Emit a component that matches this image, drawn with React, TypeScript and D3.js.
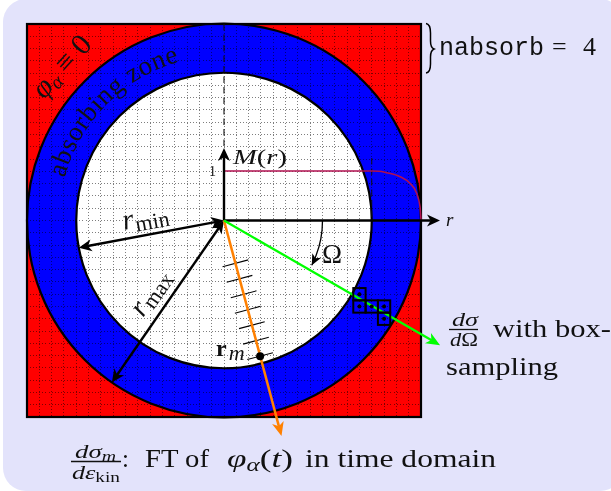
import React from "react";
import * as d3 from "d3";

const W = 611, H = 491;
const gridCells = d3.range(0, 33);
const rMin = 12, rMax = 16;
const maskR = [0, 12, 12.6, 13.2, 14.3, 15.1, 15.65, 15.92, 16];
const maskV = [1, 1, 0.995, 0.965, 0.884, 0.75, 0.545, 0.27, 0];
const rmTicks = [3.6, 4.9, 6.2, 7.5, 8.8, 10.1, 11.4];
const boxCells: [number, number][] = [[27, 22], [27, 23], [28, 23], [29, 23], [29, 24]];
const greenEnd = [17.55, -10.15];
const orangeEnd = [4.67, -17.55];
const rMinAngle = 169.4;
const rMaxAngle = 124.7;
const omegaAngle = 27;
const omegaRadius = 8;

const x = d3.scaleLinear().domain([-16, 16]).range([27, 421]);
const y = d3.scaleLinear().domain([-16, 16]).range([417, 24]);
const my = d3.scaleLinear().domain([0, 1]).range([220, 171]);
const u = x(1) - x(0);
const cx = x(0), cy = y(0);
const F = "'Liberation Serif', serif";

function head(tx: number, ty: number, dx: number, dy: number, color: string, len = 13, half = 6) {
  const n = Math.hypot(dx, dy), a = dx / n, b = dy / n;
  const bx = tx - a * len, by = ty - b * len;
  const ix = tx - a * len * 0.72, iy = ty - b * len * 0.72;
  return <path d={`M${tx},${ty}L${bx - b * half},${by + a * half}L${ix},${iy}L${bx + b * half},${by - a * half}Z`} fill={color} />;
}

function Arrow({ x1, y1, x2, y2, color = "#000", w = 2.4, both = false, len = 13, half = 6 }: any) {
  const n = Math.hypot(x2 - x1, y2 - y1), a = (x2 - x1) / n, b = (y2 - y1) / n;
  const inset = len * 0.7;
  return (
    <g>
      <line x1={both ? x1 + a * inset : x1} y1={both ? y1 + b * inset : y1} x2={x2 - a * inset} y2={y2 - b * inset} stroke={color} strokeWidth={w} />
      {head(x2, y2, a, b, color, len, half)}
      {both ? head(x1, y1, -a, -b, color, len, half) : null}
    </g>
  );
}

const pol = (r: number, deg: number) => [cx + r * u * Math.cos((deg * Math.PI) / 180), cy + r * u * Math.sin((deg * Math.PI) / 180)];

function T({ x: tx, y: ty, w, s = 25, children, ...rest }: any) {
  return <text x={tx} y={ty} fontSize={s} textLength={w} lengthAdjust="spacingAndGlyphs" {...rest}>{children}</text>;
}

export default function App() {
  const ring = d3.arc()({ innerRadius: rMin * u, outerRadius: rMax * u, startAngle: 0, endAngle: 2 * Math.PI }) as string;
  const mask = d3.line<number>().x((r) => x(r)).y((_, i) => my(maskV[i])).curve(d3.curveMonotoneX)(maskR) as string;
  const oa = Math.atan2(-orangeEnd[1], orangeEnd[0]);
  const ox = Math.cos(oa), oy = Math.sin(oa);
  const tickTilt = (-15 * Math.PI) / 180;
  const textArc = d3.path();
  textArc.arc(cx, cy, 165, Math.PI * 1.0, Math.PI * 1.6);
  const omega = d3.path();
  omega.arc(cx, cy, omegaRadius * u, 0, (omegaAngle * Math.PI) / 180);
  const omegaTip = pol(omegaRadius, omegaAngle);
  const rmaxEnd = pol(rMax, rMaxAngle), rminEnd = pol(rMin, rMinAngle);
  return (
    <svg width={W} height={H} viewBox={`0 0 ${W} ${H}`} style={{ position: "fixed", left: 0, top: 0 }} fontFamily={F} fill="#111">
      <defs>
        <path id="ta" d={textArc.toString()} />
      </defs>
      <rect x={3} y={-1} width={620} height={492} rx={23} fill="#e3e3fb" />
      <rect x={x(-16)} y={y(16)} width={x(16) - x(-16)} height={y(-16) - y(16)} fill="#ff0000" />
      <g transform={`translate(${cx},${cy})`}>
        <circle r={rMin * u} fill="#fff" />
        <path d={ring} fill="#0000ff" />
      </g>
      <g stroke="#000" strokeWidth={1} strokeDasharray="1 2.08" opacity={0.5} shapeRendering="crispEdges">
        {gridCells.slice(1, -1).map((k) => <line key={"v" + k} x1={x(k - 16)} x2={x(k - 16)} y1={y(16)} y2={y(-16)} />)}
        {gridCells.slice(1, -1).map((k) => <line key={"h" + k} y1={y(k - 16)} y2={y(k - 16)} x1={x(-16)} x2={x(16)} />)}
      </g>
      <g transform={`translate(${cx},${cy})`}>
        <circle r={rMin * u} fill="none" stroke="#000" strokeWidth={2.2} />
        <circle r={rMax * u} fill="none" stroke="#000" strokeWidth={2.2} />
      </g>
      <rect x={x(-16)} y={y(16)} width={x(16) - x(-16)} height={y(-16) - y(16)} fill="none" stroke="#000" strokeWidth={2.2} />
      <line x1={cx} x2={cx} y1={y(16)} y2={160} stroke="#111" strokeWidth={1.1} strokeDasharray="6.5 4" />
      <line x1={x(rMin)} x2={x(rMin)} y1={158} y2={219} stroke="#111" strokeWidth={1} strokeDasharray="6.5 4" />

      <text fontSize={30} transform="translate(44,100) rotate(-48)" fontStyle="italic">φ<tspan fontSize={20} dy={4}>α</tspan><tspan dy={-4} dx={7} fontStyle="normal">≡ 0</tspan></text>
      <text fontSize={27} letterSpacing={0.5}><textPath href="#ta" startOffset={43}>absorbing zone</textPath></text>

      <path d={mask} fill="none" stroke="#b0104f" strokeWidth={1.6} />
      <Arrow x1={cx} y1={cy} x2={440} y2={cy} />
      <Arrow x1={cx} y1={cy} x2={cx} y2={148} />
      <text x={209} y={176} fontSize={14}>1</text>
      <T x={233} y={164} w={54} s={20}><tspan fontStyle="italic">M</tspan>(<tspan fontStyle="italic">r</tspan>)</T>
      <text x={446} y={226} fontSize={19} fontStyle="italic">r</text>

      <Arrow x1={cx} y1={cy} x2={rminEnd[0]} y2={rminEnd[1]} both />
      <Arrow x1={cx} y1={cy} x2={rmaxEnd[0]} y2={rmaxEnd[1]} both />
      <text transform="translate(124,230) rotate(-10.6)" fontSize={29} fontStyle="italic">r<tspan fontSize={22} dy={4} dx={1} fontStyle="normal">min</tspan></text>
      <text transform="translate(143,318) rotate(-55)" fontSize={29} fontStyle="italic">r<tspan fontSize={22} dy={4} dx={1} fontStyle="normal">max</tspan></text>

      {rmTicks.map((r) => {
        const mx = cx + ox * r * u, my2 = cy + oy * r * u;
        return <line key={r} x1={mx - 13.3 * Math.cos(tickTilt)} y1={my2 - 13.3 * Math.sin(tickTilt)} x2={mx + 13.3 * Math.cos(tickTilt)} y2={my2 + 13.3 * Math.sin(tickTilt)} stroke="#000" strokeWidth={1.1} />;
      })}
      <Arrow x1={cx} y1={cy} x2={x(orangeEnd[0])} y2={y(orangeEnd[1])} color="#ff8000" w={2.5} len={14} half={6} />
      <circle cx={cx + ox * rmTicks[6] * u} cy={cy + oy * rmTicks[6] * u} r={4} fill="#000" />
      <text x={216} y={356} fontSize={24} fontWeight="bold">r<tspan fontSize={22} dy={4} dx={2} fontWeight="normal" fontStyle="italic">m</tspan></text>

      <path d={omega.toString()} fill="none" stroke="#000" strokeWidth={1.3} />
      {head(omegaTip[0], omegaTip[1], -Math.sin((omegaAngle * Math.PI) / 180), Math.cos((omegaAngle * Math.PI) / 180), "#000", 11, 5)}
      <text x={322} y={263} fontSize={27}>Ω</text>

      <Arrow x1={cx} y1={cy} x2={x(greenEnd[0])} y2={y(greenEnd[1])} color="#00ff00" w={2.3} len={14} half={6} />
      {boxCells.map(([i, j]) => (
        <g key={`${i}-${j}`}>
          <rect x={x(i - 16.5)} y={y(16 - j + 0.5)} width={u} height={u} fill="none" stroke="#000" strokeWidth={2} />
          <circle cx={x(i - 16)} cy={y(16 - j)} r={2} fill="#000" />
        </g>
      ))}

      <path d="M426,23.5 C430,24 430.5,28 430.5,33 L430.5,41 C430.5,46 431.5,48 434,49 C431.5,50 430.5,52 430.5,57 L430.5,64 C430.5,69 430,72.5 426,73" fill="none" stroke="#000" strokeWidth={1.5} />
      <text x={439} y={55} fontSize={25} fontFamily="'Liberation Mono', monospace" textLength={105} lengthAdjust="spacingAndGlyphs">nabsorb</text>
      <text x={552} y={55} fontSize={26}>=</text>
      <text x={583} y={55} fontSize={26}>4</text>

      <T x={452} y={326} w={26} s={19} fontStyle="italic">dσ</T>
      <line x1={449} x2={478} y1={329.5} y2={329.5} stroke="#111" strokeWidth={1.3} />
      <T x={450} y={346} w={28} s={19} fontStyle="italic">d<tspan fontStyle="normal">Ω</tspan></T>
      <T x={493} y={337} w={118}>with box-</T>
      <T x={446} y={375} w={112}>sampling</T>

      <T x={75} y={458} w={41} s={19} fontStyle="italic">dσ<tspan fontSize={14} dy={3}>m</tspan></T>
      <line x1={71} x2={121} y1={461.5} y2={461.5} stroke="#111" strokeWidth={1.4} />
      <T x={72} y={479} w={48} s={19} fontStyle="italic">dε<tspan fontSize={14} dy={3} fontStyle="normal">kin</tspan></T>
      <text x={122} y={467} fontSize={25}>:</text>
      <T x={145} y={467} w={64}>FT of</T>
      <T x={227} y={467} w={66}><tspan fontStyle="italic">φ</tspan><tspan fontSize={18} dy={4} fontStyle="italic">α</tspan><tspan dy={-4}>(</tspan><tspan fontStyle="italic">t</tspan>)</T>
      <T x={305} y={467} w={191}>in time domain</T>
    </svg>
  );
}
